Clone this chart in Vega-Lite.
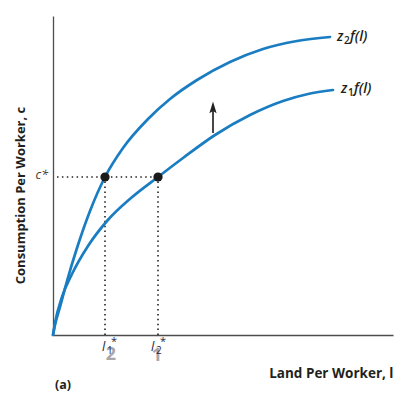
{
  "$schema": "https://vega.github.io/schema/vega-lite/v6.json",
  "width": 340,
  "height": 319,
  "autosize": "none",
  "padding": {"left": 53, "top": 16, "right": 2, "bottom": 60},
  "background": "white",
  "config": {
    "view": {"stroke": null},
    "font": "Open Sans",
    "text": {"font": "Open Sans", "color": "#231f20"}
  },
  "datasets": {
    "curves": [
      {"curve": "z2", "l": 0, "c": 0},
      {"curve": "z2", "l": 2, "c": 10},
      {"curve": "z2", "l": 7, "c": 28},
      {"curve": "z2", "l": 14, "c": 54},
      {"curve": "z2", "l": 24, "c": 87},
      {"curve": "z2", "l": 37, "c": 124},
      {"curve": "z2", "l": 52, "c": 158},
      {"curve": "z2", "l": 70, "c": 187},
      {"curve": "z2", "l": 95, "c": 216},
      {"curve": "z2", "l": 117, "c": 236},
      {"curve": "z2", "l": 144, "c": 255},
      {"curve": "z2", "l": 177, "c": 273},
      {"curve": "z2", "l": 210, "c": 286},
      {"curve": "z2", "l": 244, "c": 294},
      {"curve": "z2", "l": 277, "c": 298},
      {"curve": "z1", "l": 0, "c": 0},
      {"curve": "z1", "l": 2, "c": 12},
      {"curve": "z1", "l": 9, "c": 38},
      {"curve": "z1", "l": 19, "c": 61},
      {"curve": "z1", "l": 35, "c": 89},
      {"curve": "z1", "l": 54, "c": 114},
      {"curve": "z1", "l": 78, "c": 137},
      {"curve": "z1", "l": 105, "c": 158},
      {"curve": "z1", "l": 130, "c": 177},
      {"curve": "z1", "l": 162, "c": 200},
      {"curve": "z1", "l": 197, "c": 220},
      {"curve": "z1", "l": 230, "c": 234},
      {"curve": "z1", "l": 255, "c": 241},
      {"curve": "z1", "l": 280, "c": 245}
    ],
    "optima": [
      {"l": 52, "c": 158},
      {"l": 105, "c": 158}
    ],
    "cLevel": [
      {"l": 4, "l2": 105, "c": 158}
    ],
    "lLevels": [
      {"l": 52, "c": 0, "c2": 158},
      {"l": 105, "c": 0, "c2": 158}
    ],
    "shift": [
      {"l": 160, "c": 202, "c2": 224}
    ],
    "shiftHead": [
      {"l": 160, "c": 227.5}
    ],
    "curveLabels": [
      {"l": 284, "c": 298, "sub": "2"},
      {"l": 288, "c": 246, "sub": "1"}
    ],
    "starLabels": [
      {"l": 49, "c": -12, "sub": "1"},
      {"l": 98, "c": -12, "sub": "2"}
    ],
    "ghostLabels": [
      {"l": 58, "c": -20, "text": "2"},
      {"l": 104, "c": -21, "text": "1"}
    ],
    "cStar": [
      {"l": -5, "c": 160, "text": "c*"}
    ],
    "panel": [
      {"l": 2, "c": -50, "text": "(a)"}
    ]
  },
  "encoding": {
    "x": {
      "field": "l",
      "type": "quantitative",
      "scale": {"domain": [0, 340], "nice": false, "zero": false},
      "axis": {
        "title": "Land Per Worker, l",
        "titleFont": "Open Sans",
        "titleFontWeight": "bold",
        "titleFontSize": 13.5,
        "titleColor": "#231f20",
        "titleX": 340,
        "titleY": 38,
        "titleAlign": "right",
        "titleBaseline": "middle",
        "labels": false,
        "ticks": false,
        "grid": false,
        "domainColor": "#4d4d4d",
        "domainWidth": 1.3
      }
    },
    "y": {
      "field": "c",
      "type": "quantitative",
      "scale": {"domain": [0, 319], "nice": false, "zero": false},
      "axis": {
        "title": "Consumption Per Worker, c",
        "titleFont": "Open Sans",
        "titleFontWeight": "bold",
        "titleFontSize": 13,
        "titleColor": "#231f20",
        "titleX": -33,
        "titleY": 179,
        "titleAlign": "center",
        "titleBaseline": "middle",
        "titleAngle": -90,
        "labels": false,
        "ticks": false,
        "grid": false,
        "domainColor": "#4d4d4d",
        "domainWidth": 1.3
      }
    }
  },
  "layer": [
    {
      "data": {"name": "cLevel"},
      "mark": {"type": "rule", "color": "#222222", "strokeWidth": 1.6, "strokeDash": [1.5, 3.4]},
      "encoding": {"x2": {"field": "l2"}}
    },
    {
      "data": {"name": "lLevels"},
      "mark": {"type": "rule", "color": "#222222", "strokeWidth": 1.6, "strokeDash": [1.5, 3.4]},
      "encoding": {"y2": {"field": "c2"}}
    },
    {
      "data": {"name": "curves"},
      "mark": {"type": "line", "interpolate": "monotone", "strokeWidth": 2.7, "strokeCap": "round"},
      "encoding": {
        "detail": {"field": "curve"},
        "color": {"value": "#1a7dc2"}
      }
    },
    {
      "data": {"name": "optima"},
      "mark": {"type": "point", "filled": true, "size": 85, "color": "#1a1a1a", "opacity": 1}
    },
    {
      "data": {"name": "shift"},
      "mark": {"type": "rule", "color": "#333333", "strokeWidth": 1.8},
      "encoding": {"y2": {"field": "c2"}}
    },
    {
      "data": {"name": "shiftHead"},
      "mark": {
        "type": "point",
        "shape": "M0,-1L0.6,0.95L0,0.6L-0.6,0.95Z",
        "filled": true,
        "size": 144,
        "color": "#222222",
        "opacity": 1
      }
    },
    {
      "data": {"name": "curveLabels"},
      "mark": {"type": "text", "align": "left", "baseline": "middle", "fontSize": 14, "fontStyle": "italic", "fontWeight": 600},
      "encoding": {"text": {"value": "z"}}
    },
    {
      "data": {"name": "curveLabels"},
      "mark": {"type": "text", "align": "left", "baseline": "middle", "fontSize": 10, "fontWeight": 600, "dx": 7, "dy": 4},
      "encoding": {"text": {"field": "sub"}}
    },
    {
      "data": {"name": "curveLabels"},
      "mark": {"type": "text", "align": "left", "baseline": "middle", "fontSize": 14, "fontStyle": "italic", "fontWeight": 600, "dx": 13},
      "encoding": {"text": {"value": "f(l)"}}
    },
    {
      "data": {"name": "ghostLabels"},
      "mark": {"type": "text", "align": "center", "baseline": "middle", "fontSize": 18, "fontWeight": "bold", "color": "#8c8c8c", "opacity": 0.75},
      "encoding": {"text": {"field": "text"}}
    },
    {
      "data": {"name": "starLabels"},
      "mark": {"type": "text", "align": "left", "baseline": "middle", "fontSize": 13, "fontStyle": "italic", "color": "#1f2a44"},
      "encoding": {"text": {"value": "l"}}
    },
    {
      "data": {"name": "starLabels"},
      "mark": {"type": "text", "align": "left", "baseline": "middle", "fontSize": 10, "color": "#1f2a44", "dx": 5, "dy": 4},
      "encoding": {"text": {"field": "sub"}}
    },
    {
      "data": {"name": "starLabels"},
      "mark": {"type": "text", "align": "left", "baseline": "middle", "fontSize": 11, "color": "#1f2a44", "dx": 9, "dy": -5},
      "encoding": {"text": {"value": "*"}}
    },
    {
      "data": {"name": "cStar"},
      "mark": {"type": "text", "align": "right", "baseline": "middle", "fontSize": 12.5, "fontStyle": "italic", "color": "#4a3a2a"},
      "encoding": {"text": {"field": "text"}}
    },
    {
      "data": {"name": "panel"},
      "mark": {"type": "text", "align": "left", "baseline": "middle", "fontSize": 12.5, "fontWeight": "bold"},
      "encoding": {"text": {"field": "text"}}
    }
  ]
}
